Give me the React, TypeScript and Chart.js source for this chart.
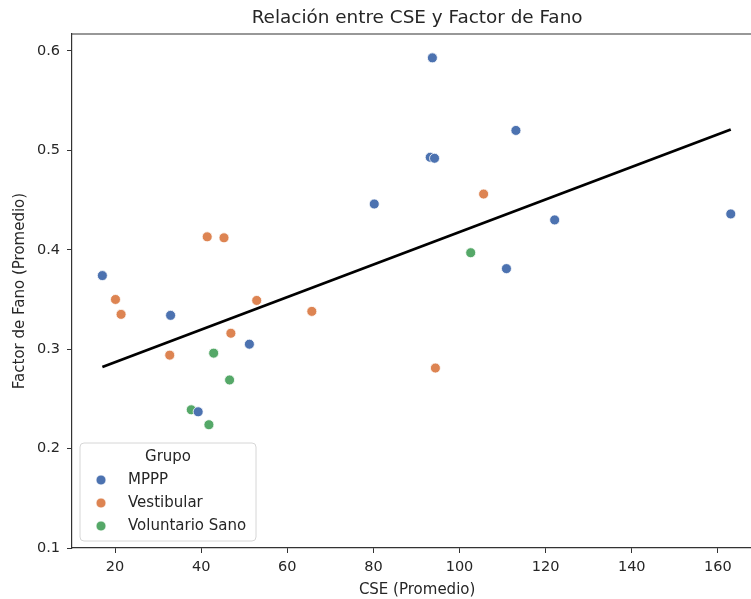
import React, { useEffect, useRef } from "react";
import { Chart, registerables } from "chart.js";

Chart.register(...registerables);

const groups = ["MPPP", "Vestibular", "Voluntario Sano"];
const groupColors = ["#4c72b0", "#dd8452", "#55a868"];

const mpppX = [93.7, 93.2, 94.2, 80.2, 163.0, 122.1, 110.9, 113.1, 17.05, 32.9, 51.2, 39.3];
const mpppY = [0.593, 0.493, 0.492, 0.446, 0.436, 0.430, 0.381, 0.520, 0.374, 0.334, 0.305, 0.237];

const vestX = [41.4, 45.3, 20.1, 21.4, 52.9, 65.7, 46.9, 32.7, 94.4, 105.6];
const vestY = [0.413, 0.412, 0.350, 0.335, 0.349, 0.338, 0.316, 0.294, 0.281, 0.456];

const sanoX = [102.6, 42.9, 46.6, 37.7, 41.8];
const sanoY = [0.397, 0.296, 0.269, 0.239, 0.224];

const fitX = [17.05, 163.0];
const fitY = [0.282, 0.521];

const xTickValues = [20, 40, 60, 80, 100, 120, 140, 160];
const yTickValues = [0.1, 0.2, 0.3, 0.4, 0.5, 0.6];

const titleText = "Relación entre CSE y Factor de Fano";
const xTitle = "CSE (Promedio)";
const yTitle = "Factor de Fano (Promedio)";
const legendTitle = "Grupo";

const FONT = "'DejaVu Sans', sans-serif";
const TEXT = "#262626";

const toPts = (xs: number[], ys: number[]) => xs.map((x, i) => ({ x, y: ys[i] }));

const framePlugin = {
  id: "frame",
  afterDraw(chart: any) {
    const { ctx, chartArea } = chart;
    ctx.save();
    ctx.strokeStyle = "#333";
    ctx.lineWidth = 1.2;
    ctx.beginPath();
    ctx.moveTo(chartArea.left, chartArea.top);
    ctx.lineTo(chartArea.right, chartArea.top);
    ctx.lineTo(chartArea.right, chartArea.bottom);
    ctx.stroke();
    ctx.font = `18.4px ${FONT}`;
    ctx.fillStyle = TEXT;
    ctx.textAlign = "center";
    ctx.textBaseline = "middle";
    ctx.fillText(titleText, (chartArea.left + chartArea.right) / 2, 18);
    ctx.restore();
  },
};

const legendPlugin = {
  id: "customLegend",
  afterDraw(chart: any) {
    const { ctx, chartArea } = chart;
    const w = 176;
    const h = 98;
    const x0 = chartArea.left + 8;
    const y0 = chartArea.bottom - 7 - h;
    ctx.save();
    ctx.beginPath();
    const r = 4;
    ctx.moveTo(x0 + r, y0);
    ctx.lineTo(x0 + w - r, y0);
    ctx.quadraticCurveTo(x0 + w, y0, x0 + w, y0 + r);
    ctx.lineTo(x0 + w, y0 + h - r);
    ctx.quadraticCurveTo(x0 + w, y0 + h, x0 + w - r, y0 + h);
    ctx.lineTo(x0 + r, y0 + h);
    ctx.quadraticCurveTo(x0, y0 + h, x0, y0 + h - r);
    ctx.lineTo(x0, y0 + r);
    ctx.quadraticCurveTo(x0, y0, x0 + r, y0);
    ctx.closePath();
    ctx.fillStyle = "rgba(255,255,255,0.8)";
    ctx.fill();
    ctx.strokeStyle = "#d6d6d6";
    ctx.lineWidth = 1;
    ctx.stroke();

    ctx.font = `15px ${FONT}`;
    ctx.fillStyle = TEXT;
    ctx.textBaseline = "middle";
    ctx.textAlign = "center";
    ctx.fillText(legendTitle, x0 + w / 2, y0 + 14);
    ctx.textAlign = "left";
    groups.forEach((g, i) => {
      const cy = y0 + 37 + i * 23;
      ctx.beginPath();
      ctx.arc(x0 + 21, cy, 5, 0, Math.PI * 2);
      ctx.fillStyle = groupColors[i];
      ctx.fill();
      ctx.strokeStyle = "#fff";
      ctx.lineWidth = 0.8;
      ctx.stroke();
      ctx.fillStyle = TEXT;
      ctx.fillText(g, x0 + 48, cy);
    });
    ctx.restore();
  },
};

export default function App() {
  const ref = useRef<HTMLCanvasElement | null>(null);

  useEffect(() => {
    if (!ref.current) return;
    const scatterDs = [
      [mpppX, mpppY],
      [vestX, vestY],
      [sanoX, sanoY],
    ].map(([xs, ys], i) => ({
      type: "scatter" as const,
      label: groups[i],
      data: toPts(xs, ys),
      backgroundColor: groupColors[i],
      borderColor: "#ffffff",
      borderWidth: 0.8,
      pointRadius: 5,
      order: 2,
    }));
    const chart = new Chart(ref.current, {
      type: "scatter",
      data: {
        datasets: [
          ...scatterDs,
          {
            type: "line" as const,
            label: "fit",
            data: toPts(fitX, fitY),
            borderColor: "#000",
            borderWidth: 2.8,
            pointRadius: 0,
            showLine: true,
            fill: false,
            order: 1,
          } as any,
        ],
      },
      options: {
        animation: false,
        responsive: true,
        maintainAspectRatio: false,
        layout: { padding: { top: 34, left: 0, right: 0, bottom: 0 } },
        font: { family: FONT },
        plugins: {
          legend: { display: false },
          tooltip: { enabled: false },
          title: { display: false },
        },
        scales: {
          x: {
            type: "linear",
            min: 10,
            max: 170.3,
            afterFit(scale: any) {
              scale.height = 51;
              scale.paddingLeft = 0;
              scale.paddingRight = 0;
            },
            afterBuildTicks(scale: any) {
              scale.ticks = xTickValues.map((v) => ({ value: v }));
            },
            ticks: {
              color: TEXT,
              font: { family: FONT, size: 14.5 },
              padding: 6,
              maxRotation: 0,
              callback: (v: any) => String(v),
            },
            grid: {
              display: true,
              drawOnChartArea: false,
              drawTicks: true,
              tickLength: 5,
              color: "#333",
              lineWidth: 1,
            },
            border: { display: true, color: "#333", width: 1.2 },
            title: {
              display: true,
              text: xTitle,
              color: TEXT,
              font: { family: FONT, size: 15 },
              padding: { top: 0, bottom: 0 },
            },
          },
          y: {
            type: "linear",
            min: 0.1,
            max: 0.617,
            afterFit(scale: any) {
              scale.width = 72;
              scale.paddingTop = 0;
              scale.paddingBottom = 0;
            },
            afterBuildTicks(scale: any) {
              scale.ticks = yTickValues.map((v) => ({ value: v }));
            },
            ticks: {
              color: TEXT,
              font: { family: FONT, size: 14.5 },
              padding: 7,
              callback: (v: any) => Number(v).toFixed(1),
            },
            grid: {
              display: true,
              drawOnChartArea: false,
              drawTicks: true,
              tickLength: 5,
              color: "#333",
              lineWidth: 1,
            },
            border: { display: true, color: "#333", width: 1.2 },
            title: {
              display: true,
              text: yTitle,
              color: TEXT,
              font: { family: FONT, size: 15 },
              padding: { top: 11, bottom: 0 },
            },
          },
        },
      },
      plugins: [framePlugin, legendPlugin],
    });
    return () => chart.destroy();
  }, []);

  return (
    <div
      style={{
        position: "absolute",
        left: 0,
        top: 0,
        width: 751,
        height: 599,
        overflow: "hidden",
        background: "#fff",
      }}
    >
      <div style={{ position: "relative", width: 768, height: 599 }}>
        <canvas ref={ref} />
      </div>
    </div>
  );
}
